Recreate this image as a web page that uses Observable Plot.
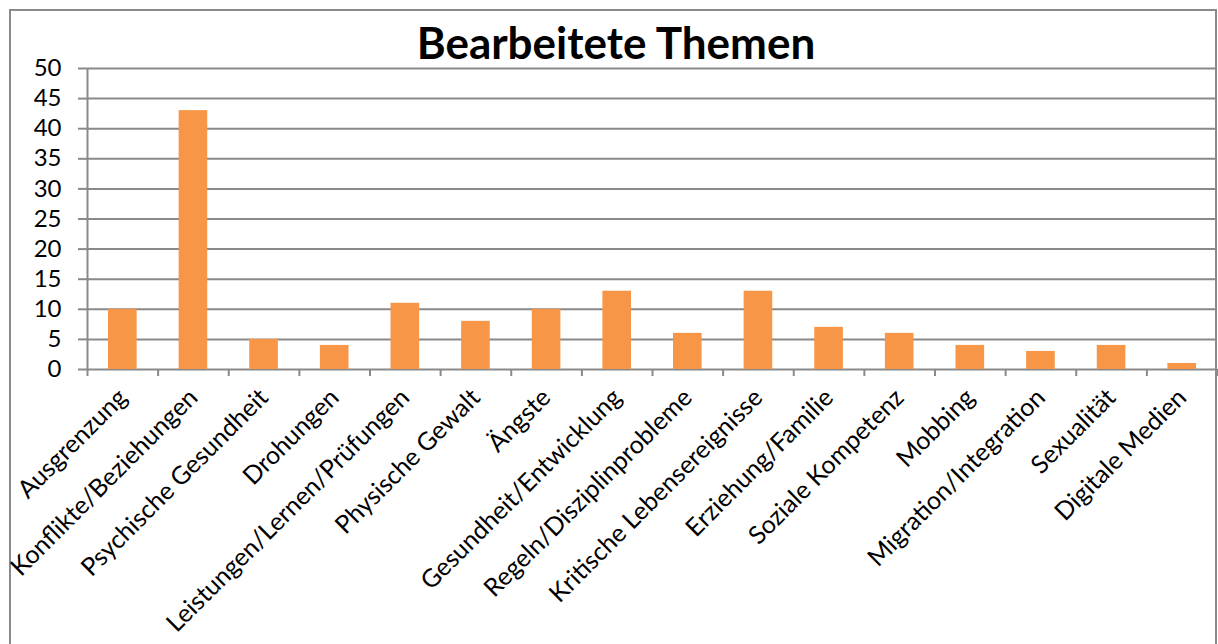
<!DOCTYPE html>
<html>
<head>
<meta charset="utf-8">
<script src="https://cdn.jsdelivr.net/npm/d3@7"></script>
<script src="https://cdn.jsdelivr.net/npm/@observablehq/plot@0.6"></script>
<style>
  html, body { margin: 0; padding: 0; background: #fff; width: 1218px; height: 644px; overflow: hidden; }
  #frame { position: absolute; left: 9px; top: 9px; width: 1204px; height: 700px; border: 2px solid #8a8a8a; border-bottom: none; }
  #wrap { position: absolute; left: 0; top: 0; width: 1218px; }
  #title { height: 50px; box-sizing: border-box; padding-top: 17px; text-align: center; font-family: Lato, sans-serif; font-weight: bold; font-size: 44px; line-height: 50px; color: #000; padding-left: 14px; white-space: nowrap; }
  svg { display: block; overflow: visible; }
</style>
</head>
<body>
<div id="frame"></div>
<div id="wrap">
  <div id="title">Bearbeitete Themen</div>
  <div id="chart"></div>
</div>
<script>
const categories = [
  "Ausgrenzung",
  "Konflikte/Beziehungen",
  "Psychische Gesundheit",
  "Drohungen",
  "Leistungen/Lernen/Prüfungen",
  "Physische Gewalt",
  "Ängste",
  "Gesundheit/Entwicklung",
  "Regeln/Disziplinprobleme",
  "Kritische Lebensereignisse",
  "Erziehung/Familie",
  "Soziale Kompetenz",
  "Mobbing",
  "Migration/Integration",
  "Sexualität",
  "Digitale Medien"
];
const values = [10, 43, 5, 4, 11, 8, 10, 13, 6, 13, 7, 6, 4, 3, 4, 1];
const yTicks = [0, 5, 10, 15, 20, 25, 30, 35, 40, 45, 50];

const data = categories.map((c, i) => ({category: c, index: i, value: values[i]}));
const boundaries = d3.range(categories.length + 1);
const centers = categories.map((c, i) => i + 0.5);
const grey = "#898989";

const chart = Plot.plot({
  width: 1218,
  height: 594,
  marginLeft: 87,
  marginRight: 1,
  marginTop: 18,
  marginBottom: 275,
  x: {domain: [0, categories.length], axis: null},
  y: {domain: [0, 50], axis: null},
  style: {fontFamily: "Lato, sans-serif", fontSize: "22px", color: "#000", background: "transparent", overflow: "visible"},
  marks: [
    Plot.gridY(yTicks, {stroke: grey, strokeOpacity: 1, strokeWidth: 2}),
    Plot.ruleX([0], {stroke: grey, strokeWidth: 2}),
    Plot.axisY(yTicks, {tickSize: 9, tickPadding: 17, stroke: grey, strokeWidth: 2, strokeOpacity: 1, fontSize: 24, label: null}),
    Plot.axisX(boundaries, {tickSize: 7, tickFormat: () => "", stroke: grey, strokeWidth: 2, strokeOpacity: 1, label: null}),
    Plot.axisX(centers, {tickSize: 0, tickPadding: 24, tickRotate: -45, fontSize: 25, tickFormat: (d) => categories[Math.floor(d)], label: null}),
    Plot.rectY(data, {x1: "index", x2: (d) => d.index + 1, y: "value", fill: "#F79646", insetLeft: 21, insetRight: 21})
  ]
});
document.getElementById("chart").appendChild(chart);
</script>
</body>
</html>
